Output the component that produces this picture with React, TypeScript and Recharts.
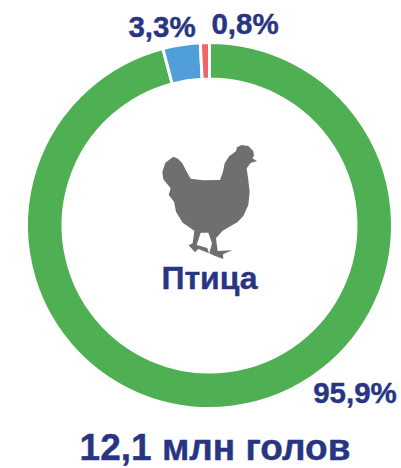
import { PieChart, Pie, Cell } from 'recharts';

const categories = ['green', 'blue', 'red'];
const shares = [95.9, 3.3, 0.8];
const colors = ['#4FAF53', '#519FD8', '#F0646C'];
const shareLabels = ['95,9%', '3,3%', '0,8%'];
const centerLabel = 'Птица';
const totalLabel = '12,1 млн голов';

const data = categories.map((name, i) => ({ name, value: shares[i] }));

const NAVY = '#283583';
const textStyle = {
  fontFamily: '"Liberation Sans", Arial, sans-serif',
  fontWeight: 700,
  fill: NAVY,
  stroke: NAVY,
  strokeWidth: 0.4,
};

const chickenPath =
  'M100 80 L114 86 L127 100 L140 125 L152 146 L190 151 L240 150 L249 125 L254 100 L268 78 L288 64 L291 52 L305 45 L325 48 L340 63 L342 78 L337 85 L351 93 L332 99 L320 115 L325 150 L329 185 L325 225 L310 258 L292 277 L248 302 L228 325 L233 363 L277 361 L249 373 L250 387 L225 378 L208 370 L216 340 L205 308 L182 308 L170 345 L202 354 L207 370 L175 357 L165 367 L146 346 L158 340 L163 302 L128 278 L108 245 L102 215 L86 195 L92 175 L70 148 L67 125 L76 98 Z';

export default function App() {
  return (
    <div style={{ position: 'absolute', left: 0, top: 0, width: 401, height: 468 }}>
      <PieChart width={401} height={468} margin={{ top: 0, right: 0, bottom: 0, left: 0 }}>
        <Pie
          data={data}
          dataKey="value"
          cx={209.5}
          cy={225.5}
          innerRadius={146.5}
          outerRadius={183}
          startAngle={90}
          endAngle={-270}
          stroke="#ffffff"
          strokeWidth={3}
          isAnimationActive={false}
        >
          {data.map((d, i) => (
            <Cell key={d.name} fill={colors[i]} />
          ))}
        </Pie>
      </PieChart>
      <svg width={401} height={468} style={{ position: 'absolute', left: 0, top: 0 }}>
        <path d={chickenPath} fill="#6F6F6F" transform="translate(140 130) scale(0.3333)" />
        <text x={209.5} y={289} textAnchor="middle" fontSize={32} style={textStyle}>{centerLabel}</text>
        <text x={215} y={460} textAnchor="middle" fontSize={37} style={textStyle}>{totalLabel}</text>
        <text x={355} y={403} textAnchor="middle" fontSize={29.5} style={textStyle}>{shareLabels[0]}</text>
        <text x={162} y={37} textAnchor="middle" fontSize={29.5} style={textStyle}>{shareLabels[1]}</text>
        <text x={245} y={34} textAnchor="middle" fontSize={29.5} style={textStyle}>{shareLabels[2]}</text>
      </svg>
    </div>
  );
}
